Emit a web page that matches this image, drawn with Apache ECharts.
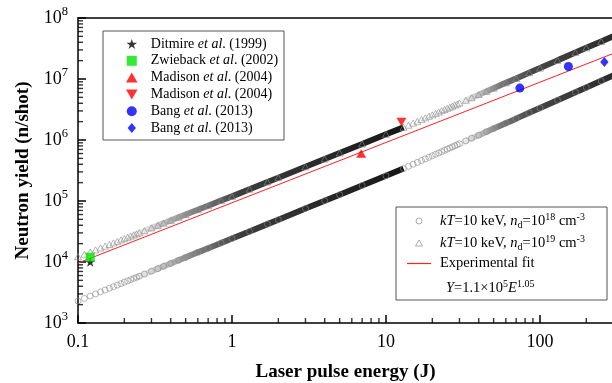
<!DOCTYPE html>
<html>
<head>
<meta charset="utf-8">
<script src="https://cdn.jsdelivr.net/npm/echarts@6.0.0/dist/echarts.min.js"></script>
<style>
  html, body { margin: 0; background: #fff; }
  #chart { width: 612px; height: 383px; }
</style>
</head>
<body>
<div id="chart"></div>
<script>
// kT = 10 keV model, first run (0.1 J .. 13 J)
var energyA = [0.10,0.11,0.12,0.13,0.14,0.15,0.16,0.17,0.18,0.19,0.20,0.21,0.22,0.23,0.24,0.25,0.27,0.30,0.33,0.36,0.40,0.45,0.50,0.60,0.70,0.85,1.0,1.3,1.7,2,3,4,5,7,10,13];
var yieldLowA = [2.29e3,2.53e3,2.76e3,3.00e3,3.23e3,3.47e3,3.71e3,3.94e3,4.18e3,4.42e3,4.66e3,4.90e3,5.14e3,5.38e3,5.61e3,5.85e3,6.34e3,7.06e3,7.78e3,8.51e3,9.47e3,1.07e4,1.19e4,1.44e4,1.68e4,2.05e4,2.42e4,3.17e4,4.18e4,4.94e4,7.51e4,1.01e5,1.27e5,1.80e5,2.59e5,3.40e5];
var yieldHighA = [1.22e4,1.34e4,1.46e4,1.58e4,1.70e4,1.82e4,1.94e4,2.06e4,2.18e4,2.30e4,2.42e4,2.54e4,2.66e4,2.78e4,2.90e4,3.02e4,3.26e4,3.62e4,3.98e4,4.33e4,4.81e4,5.41e4,6.00e4,7.19e4,8.38e4,1.02e5,1.19e5,1.56e5,2.05e5,2.41e5,3.64e5,4.88e5,6.12e5,8.61e5,1.24e6,1.61e6];

// second run (14 J .. 300 J)
var energyB = [14,15,16,17,18,19,20,21,22,23,24,25,26,27,28,29,30,33,36,40,45,50,60,70,85,100,130,170,200,250,300];
var yieldLowB = [3.70e5,4.00e5,4.30e5,4.60e5,4.90e5,5.21e5,5.51e5,5.82e5,6.13e5,6.45e5,6.76e5,7.08e5,7.40e5,7.72e5,8.04e5,8.36e5,8.68e5,9.66e5,1.07e6,1.20e6,1.37e6,1.54e6,1.89e6,2.24e6,2.79e6,3.35e6,4.49e6,6.06e6,7.27e6,9.33e6,1.15e7];
var yieldHighB = [1.75e6,1.89e6,2.03e6,2.17e6,2.31e6,2.45e6,2.59e6,2.73e6,2.88e6,3.02e6,3.16e6,3.31e6,3.45e6,3.60e6,3.75e6,3.89e6,4.04e6,4.48e6,4.93e6,5.54e6,6.30e6,7.07e6,8.64e6,1.02e7,1.27e7,1.51e7,2.02e7,2.71e7,3.24e7,4.13e7,5.05e7];

// experimental fit line as drawn
var fitEnergy = [0.1, 1, 10, 100, 300];
var fitYield = [9.6e3, 9.35e4, 9.1e5, 8.87e6, 2.63e7];

// measurements
var ditmireE = [0.12],  ditmireY = [1.0e4];
var zwiebackE = [0.12], zwiebackY = [1.2e4];
var madisonUpE = [6.9], madisonUpY = [6.0e5];
var madisonDnE = [12.6], madisonDnY = [1.97e6];
var bangCircE = [74, 153], bangCircY = [7.1e6, 1.6e7];
var bangDiamE = [262], bangDiamY = [1.9e7];

// minor ticks
var xMinorTicks = [0.2,0.3,0.4,0.5,0.6,0.7,0.8,0.9,2,3,4,5,6,7,8,9,20,30,40,50,60,70,80,90,200];
var yMinorTicks = [2e3,3e3,4e3,5e3,6e3,7e3,8e3,9e3,2e4,3e4,4e4,5e4,6e4,7e4,8e4,9e4,
  2e5,3e5,4e5,5e5,6e5,7e5,8e5,9e5,2e6,3e6,4e6,5e6,6e6,7e6,8e6,9e6,2e7,3e7,4e7,5e7,6e7,7e7,8e7,9e7];

var X_MIN = 0.1, X_MAX = 298, Y_MIN = 1e3, Y_MAX = 1e8;
var serif = 'Liberation Serif';

var STAR = 'path://M50,0L61.2,34.6L97.6,34.5L68.1,55.9L79.4,90.5L50,69L20.6,90.5L31.9,55.9L2.4,34.5L38.8,34.6Z';
var SQUARE = 'path://M0,0H10V10H0Z';
var TRI_UP = 'path://M5,0L10,8.66L0,8.66Z';
var TRI_DN = 'path://M0,0L10,0L5,8.66Z';
var DIAMOND = 'path://M5,0L10,6L5,12L0,6Z';
var DASH = 'path://M0,0H24V1.2H0Z';

function pairs(xs, ys){ return xs.map(function(x, i){ return [x, ys[i]]; }); }

function band(stops){
  return { type: 'linear', x: 0, y: 0, x2: 1, y2: 0,
    colorStops: stops.map(function(s){ return { offset: s[0], color: s[1] }; }) };
}
var bandA = band([[0,'rgba(90,90,90,0)'],[0.16,'rgba(90,90,90,0)'],[0.36,'rgba(75,75,75,0.7)'],[0.5,'rgba(50,50,50,0.95)'],[1,'#151515']]);
var bandB = band([[0,'rgba(100,100,100,0)'],[0.25,'rgba(100,100,100,0)'],[0.45,'rgba(85,85,85,0.8)'],[0.6,'#464646'],[1,'#2a2a2a']]);

var legendText = {
  ditmire: '{n|Ditmire }{i|et al}{n|. (1999)}',
  zwieback: '{n|Zwieback }{i|et al}{n|. (2002)}',
  madisonUp: '{n|Madison }{i|et al}{n|. (2004)}',
  madisonDn: '{n|Madison }{i|et al}{n|. (2004)}',
  bangCirc: '{n|Bang }{i|et al}{n|. (2013)}',
  bangDiam: '{n|Bang }{i|et al}{n|. (2013)}',
  nd18: '{i|kT}{n|=10 keV, }{i|n}{sub|d}{n|=10}{sup|18}{n| cm}{sup|-3}',
  nd19: '{i|kT}{n|=10 keV, }{i|n}{sub|d}{n|=10}{sup|19}{n| cm}{sup|-3}',
  fit: '{n|Experimental fit}'
};

var rich = {
  n: { fontFamily: serif, fontSize: 14, color: '#000' },
  i: { fontFamily: serif, fontSize: 14, fontStyle: 'italic', color: '#000' }
};
var rich2 = {
  n: { fontFamily: serif, fontSize: 14.5, lineHeight: 18, color: '#000' },
  i: { fontFamily: serif, fontSize: 14.5, lineHeight: 18, fontStyle: 'italic', color: '#000' },
  sup: { fontFamily: serif, fontSize: 10, lineHeight: 8, verticalAlign: 'top', color: '#000' },
  sub: { fontFamily: serif, fontSize: 10, lineHeight: 10, verticalAlign: 'bottom', color: '#000' }
};

function marker(name, xs, ys, symbol, size, color){
  return { name: name, type: 'scatter', data: pairs(xs, ys), symbol: symbol, symbolSize: size,
    symbolKeepAspect: true, itemStyle: { color: color }, z: 5 };
}
function hollow(name, xs, ys, symbol, size){
  return { name: name, type: 'scatter', data: pairs(xs, ys), symbol: symbol, symbolSize: size,
    symbolKeepAspect: true, z: 3,
    itemStyle: { color: 'rgba(0,0,0,0)', borderColor: '#8a8a8a', borderWidth: 0.8 } };
}
function bandLine(xs, ys, grad){
  return { type: 'line', data: pairs(xs, ys), symbol: 'none', silent: true, z: 2,
    lineStyle: { width: 6, color: grad, cap: 'butt' } };
}
// short minor tick marks sitting on an axis
function minorTicks(data, size, offset){
  return { type: 'scatter', data: data, symbol: 'rect', symbolSize: size, symbolOffset: offset,
    silent: true, clip: false, z: 6, itemStyle: { color: '#000' } };
}

var chart = echarts.init(document.getElementById('chart'));

chart.setOption({
  animation: false,
  backgroundColor: '#fff',
  grid: { left: 78, right: -1, top: 18, bottom: 60, outerBoundsMode: 'none' },
  xAxis: [{
    type: 'log', min: X_MIN, max: X_MAX,
    name: 'Laser pulse energy (J)', nameLocation: 'middle', nameGap: 40,
    nameTextStyle: { fontFamily: serif, fontSize: 19, fontWeight: 'bold', color: '#000' },
    axisLine: { lineStyle: { color: '#000', width: 1.5 } },
    axisTick: { inside: true, length: 8, lineStyle: { color: '#000', width: 1.5 } },
    axisLabel: { showMaxLabel: false, margin: 10, fontFamily: serif, fontSize: 18, color: '#000',
      formatter: function(v){ return v < 1 ? v.toFixed(1) : String(Math.round(v)); } },
    splitLine: { show: false }
  }, {
    type: 'log', position: 'top', min: X_MIN, max: X_MAX,
    axisLine: { lineStyle: { color: '#000', width: 1.5 } },
    axisTick: { show: false }, axisLabel: { show: false }, splitLine: { show: false }
  }],
  yAxis: {
    type: 'log', min: Y_MIN, max: Y_MAX,
    name: 'Neutron yield (n/shot)', nameLocation: 'middle', nameGap: 39,
    nameTextStyle: { fontFamily: serif, fontSize: 19, fontWeight: 'bold', color: '#000' },
    axisLine: { lineStyle: { color: '#000', width: 1.5 } },
    axisTick: { inside: true, length: 8, lineStyle: { color: '#000', width: 1.5 } },
    axisLabel: { margin: 10, color: '#000',
      formatter: function(v){ return '{b|10}{s|' + Math.round(Math.log10(v)) + '}'; },
      rich: {
        b: { fontFamily: serif, fontSize: 18, lineHeight: 26, color: '#000' },
        s: { fontFamily: serif, fontSize: 12.5, lineHeight: 13, verticalAlign: 'top', color: '#000' }
      } },
    splitLine: { show: false }
  },
  legend: [{
    // the item box starts where the 10px icon starts, 9px inside the 28px icon slot
    orient: 'vertical', left: 126, top: 37, padding: 0,
    itemWidth: 28, itemHeight: 10, itemGap: 2.8, symbolKeepAspect: true, selectedMode: false,
    data: ['ditmire', 'zwieback', 'madisonUp', 'madisonDn', 'bangCirc', 'bangDiam'],
    formatter: function(name){ return legendText[name]; },
    textStyle: { fontFamily: serif, fontSize: 14, color: '#000', rich: rich }
  }, {
    orient: 'vertical', left: 407, top: 212, padding: 0,
    itemWidth: 24, itemHeight: 6, itemGap: 4, symbolKeepAspect: true, selectedMode: false,
    data: [
      { name: 'nd18', itemStyle: { color: 'rgba(0,0,0,0)', borderColor: '#999', borderWidth: 1 } },
      { name: 'nd19', itemStyle: { color: 'rgba(0,0,0,0)', borderColor: '#999', borderWidth: 1 } },
      { name: 'fit', icon: DASH, itemStyle: { color: '#ff2020' } }
    ],
    formatter: function(name){ return legendText[name]; },
    textStyle: { fontFamily: serif, fontSize: 14.5, color: '#000', padding: [0, 0, 0, 4], rich: rich2 }
  }],
  graphic: [
    { type: 'rect', shape: { x: 103, y: 31, width: 181, height: 109 }, z: 100,
      style: { fill: 'none', stroke: '#555', lineWidth: 1 } },
    { type: 'rect', shape: { x: 396, y: 207, width: 211, height: 93 }, z: 100,
      style: { fill: 'none', stroke: '#555', lineWidth: 1 } },
    { type: 'text', left: 446, top: 279, z: 100,
      style: { text: '{i|Y}{n|=1.1\u00d710}{sup|5}{i|E}{sup|1.05}', rich: rich2 } }
  ],
  series: [
    bandLine(energyA, yieldLowA, bandA),
    bandLine(energyA, yieldHighA, bandA),
    bandLine(energyB, yieldLowB, bandB),
    bandLine(energyB, yieldHighB, bandB),
    hollow('nd18', energyA.concat(energyB), yieldLowA.concat(yieldLowB), 'circle', 6),
    hollow('nd19', energyA.concat(energyB), yieldHighA.concat(yieldHighB), TRI_UP, 7),
    { name: 'fit', type: 'line', data: pairs(fitEnergy, fitYield), symbol: 'none', z: 4,
      itemStyle: { color: '#ff2020' }, lineStyle: { color: '#ff2020', width: 1 } },
    marker('ditmire', ditmireE, ditmireY, STAR, 10, '#000'),
    marker('zwieback', zwiebackE, zwiebackY, SQUARE, 9, '#00e600'),
    marker('madisonUp', madisonUpE, madisonUpY, TRI_UP, 10, '#ff0000'),
    marker('madisonDn', madisonDnE, madisonDnY, TRI_DN, 10, '#ff0000'),
    marker('bangCirc', bangCircE, bangCircY, 'circle', 9, '#0000ff'),
    marker('bangDiam', bangDiamE, bangDiamY, DIAMOND, 10, '#0000ff'),
    minorTicks(xMinorTicks.map(function(v){ return [v, Y_MIN]; }), [1.4, 5], [0, -2.5]),
    minorTicks(yMinorTicks.map(function(v){ return [X_MIN, v]; }), [5, 1.4], [2.5, 0])
  ]
});
</script>
</body>
</html>
